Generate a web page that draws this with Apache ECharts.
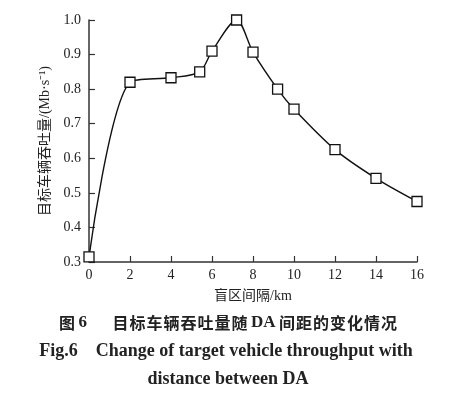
<!DOCTYPE html>
<html><head><meta charset="utf-8">
<script src="https://cdn.jsdelivr.net/npm/echarts@6/dist/echarts.min.js"></script>
<style>html,body{margin:0;padding:0;background:#fff}#c{width:469px;height:394px}</style>
</head><body><div id="c"></div>
<script>
var xValues = [0, 2, 4, 5.4, 6, 7.2, 8, 9.2, 10, 12, 14, 16];
var yValues = [0.315, 0.82, 0.833, 0.85, 0.91, 1.0, 0.907, 0.80, 0.742, 0.625, 0.542, 0.475];
var xTicks = [0, 2, 4, 6, 8, 10, 12, 14, 16];
var yTicks = [0.3, 0.4, 0.5, 0.6, 0.7, 0.8, 0.9, 1.0];
var yName = '目标车辆吞吐量/(Mb·s⁻¹)';
var xName = '盲区间隔/km';
var caption1a = '图';
var caption1b = '6';
var caption1c = '目标车辆吞吐量随';
var caption1d = 'DA';
var caption1e = '间距的变化情况';
var caption2 = 'Fig.6    Change of target vehicle throughput with';
var caption3 = 'distance between DA';

var serif = '"Liberation Serif","DejaVu Serif",serif';
var mixed = '"Liberation Serif","Noto Sans CJK SC",serif';
function spaced(s) { return s.split('').join('\u200A'); }
var chart = echarts.init(document.getElementById('c'));
chart.setOption({
  animation: false,
  backgroundColor: '#fff',
  grid: {left: 89, right: 52, top: 20, bottom: 132},
  xAxis: {
    type: 'value', min: 0, max: 16, interval: 2,
    name: xName, nameLocation: 'middle', nameGap: 27,
    nameTextStyle: {fontFamily: mixed, fontSize: 14, color: '#222'},
    axisLine: {lineStyle: {color: '#333', width: 1.5}},
    axisTick: {inside: true, length: 6, lineStyle: {color: '#333', width: 1.2}},
    axisLabel: {fontFamily: serif, fontSize: 14, color: '#222', margin: 6},
    splitLine: {show: false}
  },
  yAxis: {
    type: 'value', min: 0.3, max: 1.0, interval: 0.1,
    name: yName, nameLocation: 'middle', nameGap: 29, nameRotate: 90,
    nameTextStyle: {fontFamily: mixed, fontSize: 14, color: '#222'},
    axisLine: {show: true, lineStyle: {color: '#333', width: 1.5}},
    axisTick: {show: true, inside: true, length: 6, lineStyle: {color: '#333', width: 1.2}},
    axisLabel: {fontFamily: serif, fontSize: 14, color: '#222', margin: 8,
      formatter: function (v) { return v.toFixed(1); }},
    splitLine: {show: false}
  },
  series: [{
    type: 'line',
    data: xValues.map(function (x, i) { return [x, yValues[i]]; }),
    smooth: 0.3,
    symbol: 'rect', symbolSize: 10,
    itemStyle: {color: '#fff', borderColor: '#111', borderWidth: 1.3},
    lineStyle: {color: '#111', width: 1.4},
    z: 3
  }],
  graphic: [
    {type: 'text', x: 228, y: 314, style: {
      textAlign: 'center',
      text: '{c|' + caption1a + '}{s|\u2009' + caption1b + '}{s|\u2003\u2002}{c|' + spaced(caption1c) + '}{s|\u2009' + caption1d + '\u2009}{c|' + spaced(caption1e) + '}',
      rich: {
        c: {font: 'bold 16px "Noto Sans CJK SC", sans-serif', fill: '#222'},
        s: {font: 'bold 17px ' + serif, fill: '#222'}
      }
    }},
    {type: 'text', x: 226, y: 342, style: {textAlign: 'center', text: caption2, font: 'bold 18px ' + serif, fill: '#222'}},
    {type: 'text', x: 228, y: 370, style: {textAlign: 'center', text: caption3, font: 'bold 18px ' + serif, fill: '#222'}}
  ]
});
</script></body></html>
